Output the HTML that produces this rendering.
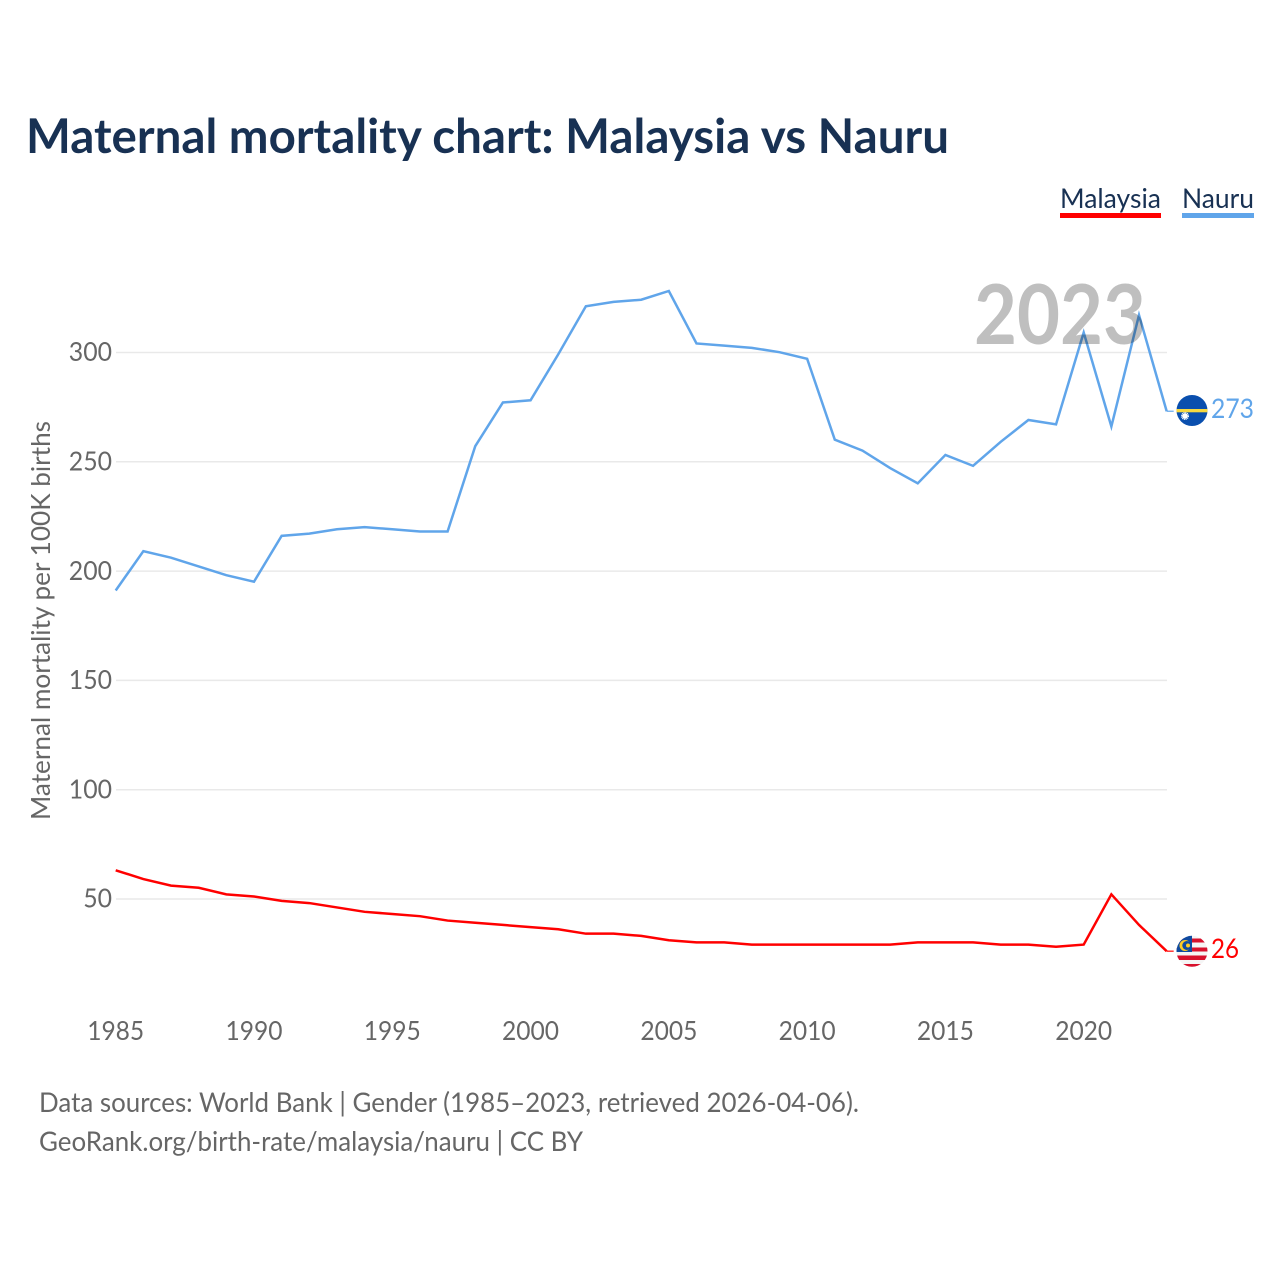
<!DOCTYPE html>
<html lang="en">
<head>
<meta charset="utf-8">
<title>Maternal mortality chart: Malaysia vs Nauru</title>
<style>
html,body{margin:0;padding:0;background:#fff;width:1280px;height:1280px;overflow:hidden}
svg{display:block}
text{font-family:"Lato","Carlito","Liberation Sans",sans-serif}
</style>
</head>
<body>
<svg id="chart" xmlns="http://www.w3.org/2000/svg" width="1280" height="1280" viewBox="0 0 1280 1280">
  <rect width="1280" height="1280" fill="#fff"/>
  <text x="26" y="153" font-size="47.500" font-weight="700" fill="#183153" textLength="923" lengthAdjust="spacingAndGlyphs">Maternal mortality chart: Malaysia vs Nauru</text>

  <g>
    <g>
      <text x="1060" y="208" font-size="27" fill="#183153" textLength="101" lengthAdjust="spacingAndGlyphs">Malaysia</text>
      <rect x="1060" y="213" width="101" height="5" fill="#ff0000"/>
    </g>
    <g>
      <text x="1182" y="208" font-size="27" fill="#183153" textLength="72" lengthAdjust="spacingAndGlyphs">Nauru</text>
      <rect x="1182" y="213" width="72" height="5" fill="#60a5ea"/>
    </g>
  </g>

  <g id="grid"></g>
  <g id="yticks"></g>
  <g id="xticks"></g>

  <text transform="translate(50,620.500) rotate(-90)" text-anchor="middle" font-size="26.500" fill="#666" textLength="399" lengthAdjust="spacingAndGlyphs">Maternal mortality per 100K births</text>

  <g id="series"></g>

  <text x="1146" y="344" text-anchor="end" font-size="82" font-weight="700" fill="#bfbfbf" textLength="172" lengthAdjust="spacingAndGlyphs" style="mix-blend-mode:multiply">2023</text>

  <defs>
    <clipPath id="clip-nauru"><circle cx="1192" cy="410.500" r="15.500"/></clipPath>
    <clipPath id="clip-malaysia"><circle cx="1192" cy="951.300" r="15.500"/></clipPath>
  </defs>

  <g clip-path="url(#clip-nauru)">
    <rect x="1176" y="395" width="32" height="32" fill="#0a4fae"/>
    <rect x="1176" y="409" width="32" height="3.300" fill="#f7d93f"/>
    <circle cx="1185" cy="416" r="2.800" fill="#fff"/>
    <circle cx="1185" cy="416" r="3.400" fill="none" stroke="#fff" stroke-width="1.200" stroke-dasharray="1.100 0.700"/>
  </g>

  <g clip-path="url(#clip-malaysia)">
    <rect x="1176" y="935" width="32" height="33" fill="#f5f5f5"/>
    <rect x="1176" y="938.500" width="32" height="4" fill="#d8102c"/>
    <rect x="1176" y="947.500" width="32" height="4" fill="#d8102c"/>
    <rect x="1176" y="955.500" width="32" height="4.500" fill="#d8102c"/>
    <rect x="1176" y="964" width="32" height="4" fill="#d8102c"/>
    <rect x="1176" y="935" width="16" height="17" fill="#0f4aa0"/>
    <circle cx="1185" cy="945.500" r="5.500" fill="#ffcc22"/>
    <circle cx="1186.800" cy="945.500" r="4.500" fill="#0f4aa0"/>
    <circle cx="1188" cy="945.500" r="2" fill="#ffcc22"/>
  </g>

  <text x="1211" y="418" font-size="27" fill="#60a5ea" textLength="43" lengthAdjust="spacingAndGlyphs">273</text>
  <text x="1211" y="958" font-size="27" fill="#ff0000" textLength="28" lengthAdjust="spacingAndGlyphs">26</text>

  <text x="39" y="1112" font-size="27" fill="#666" textLength="820" lengthAdjust="spacingAndGlyphs">Data sources: World Bank | Gender (1985–2023, retrieved 2026-04-06).</text>
  <text x="39" y="1151" font-size="27" fill="#666" textLength="544" lengthAdjust="spacingAndGlyphs">GeoRank.org/birth-rate/malaysia/nauru | CC BY</text>
</svg>
<script>
const years = [1985,1986,1987,1988,1989,1990,1991,1992,1993,1994,1995,1996,1997,1998,1999,2000,2001,2002,2003,2004,2005,2006,2007,2008,2009,2010,2011,2012,2013,2014,2015,2016,2017,2018,2019,2020,2021,2022,2023];
const nauruValues = [191,209,206,202,198,195,216,217,219,220,219,218,218,257,277,278,299,321,323,324,328,304,303,302,300,297,260,255,247,240,253,248,259,269,267,309,266,317,273];
const malaysiaValues = [63,59,56,55,52,51,49,48,46,44,43,42,40,39,38,37,36,34,34,33,31,30,30,29,29,29,29,29,29,30,30,30,29,29,28,29,52,38,26];
const yTickValues = [50,100,150,200,250,300];
const xTickYears = [1985,1990,1995,2000,2005,2010,2015,2020];

const SVG_NS = 'http://www.w3.org/2000/svg';
function xScale(year){ return 115.7 + (year - 1985) * (968 / 35); }
function yScale(value){ return 352.2 + (300 - value) * (546.5 / 250); }
function svgEl(tag){ return document.createElementNS(SVG_NS, tag); }

const gridGroup = document.getElementById('grid');
const yTickGroup = document.getElementById('yticks');
const xTickGroup = document.getElementById('xticks');
const seriesGroup = document.getElementById('series');

yTickValues.forEach(function(v){
  const line = svgEl('line');
  
  
  line.setAttribute('x1', 116);
  line.setAttribute('x2', 1167);
  line.setAttribute('y1', yScale(v) + 0.3);
  line.setAttribute('y2', yScale(v) + 0.3);
  line.setAttribute('stroke', '#e9e9e9');
  line.setAttribute('stroke-width', '1.5');
  gridGroup.appendChild(line);

  const label = svgEl('text');
  
  
  label.setAttribute('x', 112);
  label.setAttribute('y', yScale(v) + 9);
  label.setAttribute('text-anchor', 'end');
  label.setAttribute('font-size', '26.5');
  label.setAttribute('fill', '#666');
  label.setAttribute('textLength', String(v).length * 14.4);
  label.setAttribute('lengthAdjust', 'spacingAndGlyphs');
  label.textContent = String(v);
  yTickGroup.appendChild(label);
});

xTickYears.forEach(function(y){
  const label = svgEl('text');
  
  
  label.setAttribute('x', xScale(y));
  label.setAttribute('y', 1040);
  label.setAttribute('text-anchor', 'middle');
  label.setAttribute('font-size', '26.5');
  label.setAttribute('fill', '#666');
  label.setAttribute('textLength', '57');
  label.setAttribute('lengthAdjust', 'spacingAndGlyphs');
  label.textContent = String(y);
  xTickGroup.appendChild(label);
});

function linePoints(values){
  return values.map(function(v, i){ return xScale(years[i]).toFixed(2) + ',' + yScale(v).toFixed(2); }).join(' ');
}

function addConnector(name, values, color){
  const last = values[values.length - 1];
  const x0 = xScale(years[years.length - 1]);
  const connector = svgEl('line');
  
  
  connector.setAttribute('x1', x0);
  connector.setAttribute('x2', x0 + 7);
  connector.setAttribute('y1', yScale(last));
  connector.setAttribute('y2', yScale(last));
  connector.setAttribute('stroke', color);
  connector.setAttribute('stroke-width', '1.2');
  seriesGroup.appendChild(connector);
}

const nauruLine = svgEl('polyline');


nauruLine.setAttribute('points', linePoints(nauruValues));
nauruLine.setAttribute('fill', 'none');
nauruLine.setAttribute('stroke', '#60a5ea');
nauruLine.setAttribute('stroke-width', '2.5');
seriesGroup.appendChild(nauruLine);
addConnector('connector-nauru', nauruValues, '#60a5ea');

const malaysiaLine = svgEl('polyline');


malaysiaLine.setAttribute('points', linePoints(malaysiaValues));
malaysiaLine.setAttribute('fill', 'none');
malaysiaLine.setAttribute('stroke', '#ff0000');
malaysiaLine.setAttribute('stroke-width', '2.5');
seriesGroup.appendChild(malaysiaLine);
addConnector('connector-malaysia', malaysiaValues, '#ff0000');
</script>
</body>
</html>
